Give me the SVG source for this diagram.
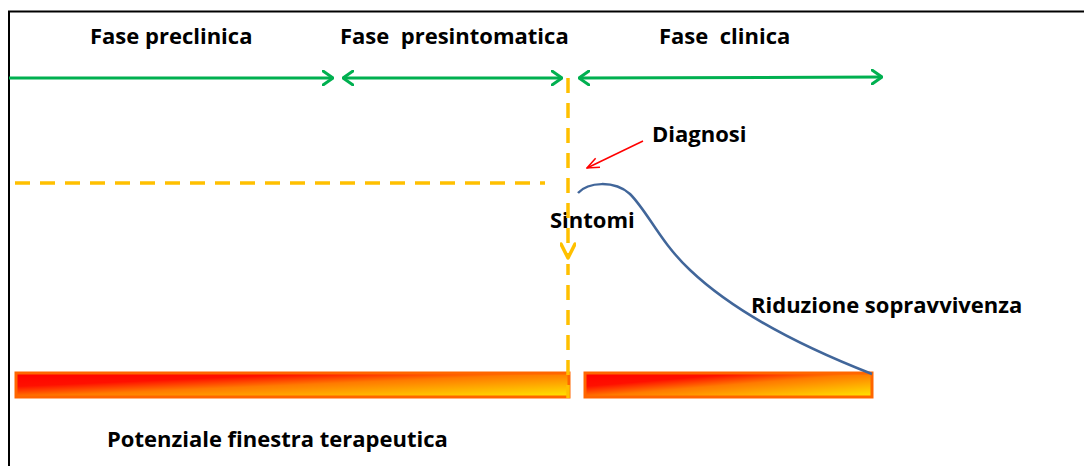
<svg xmlns="http://www.w3.org/2000/svg" width="1084" height="466" viewBox="0 0 1084 466">
<style>
.t{font-family:"Open Sans",Lato,"Liberation Sans",sans-serif;font-weight:bold;font-size:22px;fill:#000;white-space:pre}
.g{stroke:#00B050;stroke-width:3;fill:none}
.d{stroke:#FFC000;stroke-width:3.5;fill:none;stroke-dasharray:15 10}
.bar{stroke:#FF6600;stroke-width:3;fill:url(#grad)}
</style>
<defs>
<linearGradient id="grad" x1="0" y1="0" x2="1" y2="1">
<stop offset="0" stop-color="#FF0000"/>
<stop offset="0.28" stop-color="#FF1000"/>
<stop offset="0.5" stop-color="#FF7A00"/>
<stop offset="1" stop-color="#FFE800"/>
</linearGradient>
<marker id="ga" viewBox="0 0 12 16" refX="11" refY="8" markerWidth="12" markerHeight="16" markerUnits="userSpaceOnUse" orient="auto-start-reverse">
<path d="M1,1 L11,8 L1,15" fill="none" stroke="#00B050" stroke-width="3" stroke-linecap="round" stroke-linejoin="round"/>
</marker>
<marker id="ra" viewBox="0 0 14 12" refX="13" refY="6" markerWidth="14" markerHeight="12" markerUnits="userSpaceOnUse" orient="auto">
<path d="M1,1 L13,6 L1,11" fill="none" stroke="#FF0000" stroke-width="1.5"/>
</marker>
<marker id="ya" viewBox="0 0 18 16" refX="16" refY="8" markerWidth="18" markerHeight="16" markerUnits="userSpaceOnUse" orient="auto">
<path d="M2,1 L16,8 L2,15" fill="none" stroke="#FFC000" stroke-width="3.5" stroke-linecap="round" stroke-linejoin="round"/>
</marker>
</defs>
<rect width="1084" height="466" fill="#fff"/>
<g id="frame"><path d="M9,466 V11.5 H1084" fill="none" stroke="#000" stroke-width="2"/></g>
<g id="labels">
<text id="fase-preclinica" class="t" x="90" y="44">Fase preclinica</text>
<text id="fase-presintomatica" class="t" x="340" y="44">Fase  presintomatica</text>
<text id="fase-clinica" class="t" x="659" y="44">Fase  clinica</text>
<text id="diagnosi" class="t" x="652" y="142">Diagnosi</text>
<text id="sintomi" class="t" x="550" y="228">Sintomi</text>
<text id="riduzione" class="t" x="751" y="313">Riduzione sopravvivenza</text>
<text id="potenziale" class="t" x="107" y="447">Potenziale finestra terapeutica</text>
</g>
<g id="bars">
<rect id="bar1" class="bar" x="16" y="373" width="553" height="24"/>
<rect id="bar2" class="bar" x="585" y="373" width="287" height="24"/>
</g>
<g id="connectors">
<line class="g" x1="9" y1="78" x2="333" y2="78" marker-end="url(#ga)"/>
<line class="g" x1="343" y1="78" x2="562" y2="78" marker-start="url(#ga)" marker-end="url(#ga)"/>
<line class="g" x1="579" y1="78" x2="882" y2="77" marker-start="url(#ga)" marker-end="url(#ga)"/>
<line class="d" x1="15" y1="183" x2="545" y2="183"/>
<line class="d" x1="568" y1="78" x2="568" y2="258" marker-end="url(#ya)"/>
<line class="d" x1="568" y1="264" x2="568" y2="398" stroke-dashoffset="4"/>
<line x1="643" y1="141" x2="587" y2="168" stroke="#FF0000" stroke-width="1.5" marker-end="url(#ra)"/>
<path id="curve" d="M578,193 C588,182 614,180 630,194 C648,212 660,242 690,270 C730,308 790,342 872,374" fill="none" stroke="#41669A" stroke-width="2.5"/>
</g>
</svg>
